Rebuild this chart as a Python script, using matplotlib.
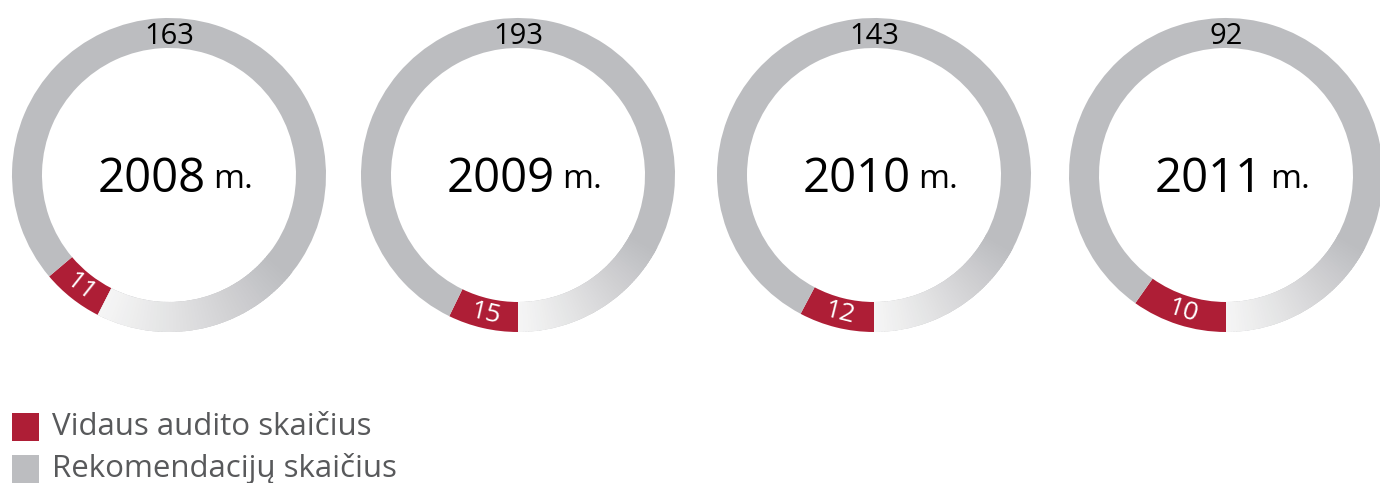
import numpy as np
import matplotlib.pyplot as plt
from matplotlib.patches import Wedge, Rectangle
from matplotlib.colors import to_rgb

years = ["2008", "2009", "2010", "2011"]
audits = [11, 15, 12, 10]
recommendations = [163, 193, 143, 92]
legend_labels = ["Vidaus audito skaičius", "Rekomendacijų skaičius"]

red = "#ae1e36"
grey = "#bcbdc0"
W, H = 1380, 483
centers_x = [169, 518, 874, 1226]
center_y = H - 175
r_out, ring_w = 157, 30
# where the red arc ends, degrees clockwise from 6 o'clock
red_end_off = [27, 0, 0, 0]

plt.rcParams["font.family"] = ["Open Sans", "DejaVu Sans"]
fig = plt.figure(figsize=(W / 100, H / 100), dpi=100)
ax = fig.add_axes([0, 0, 1, 1])

g0 = np.array(to_rgb(grey))
w0 = np.array([0.96, 0.96, 0.96])

for i, yr in enumerate(years):
    cx = centers_x[i]
    start = 270 - red_end_off[i]
    wedges, _ = ax.pie([audits[i], recommendations[i]], colors=[red, grey],
                       startangle=start, counterclock=False, radius=r_out,
                       center=(cx, center_y), frame=True,
                       wedgeprops=dict(width=ring_w, linewidth=0))
    # soft white fade on the grey ring next to the red segment
    n = 60
    span = 62 + red_end_off[i] * 0.6
    for k in range(n):
        t = k / (n - 1)
        c = w0 + (g0 - w0) * t ** 1.1
        a0 = start + span * k / n
        ax.add_patch(Wedge((cx, center_y), r_out, a0, a0 + span / n + 0.6,
                           width=ring_w, color=c, lw=0, zorder=2))
    # red value label along the arc
    th1, th2 = wedges[0].theta1, wedges[0].theta2
    mid = np.deg2rad((th1 + th2) / 2)
    rm = r_out - ring_w / 2
    ax.text(cx + rm * np.cos(mid), center_y + rm * np.sin(mid) - 1, str(audits[i]),
            color="white", fontsize=19, ha="center", va="center",
            rotation=np.rad2deg(mid) - 270, zorder=5)
    # grey value label on top
    ax.text(cx, center_y + rm - 3, str(recommendations[i]), color="black",
            fontsize=21, ha="center", va="center", zorder=5)
    # year in the middle
    ax.text(cx + 37, center_y - 4, yr, fontsize=34, ha="right", va="center", zorder=5)
    ax.text(cx + 44, center_y - 4, "m.", fontsize=24, ha="left", va="center", zorder=5)

ax.set_xlim(0, W)
ax.set_ylim(0, H)
ax.set_aspect("equal")
ax.axis("off")

# legend
for j, (lab, col) in enumerate(zip(legend_labels, [red, grey])):
    y = H - 427 - j * 42
    ax.add_patch(Rectangle((12, y - 14), 27, 28, color=col, lw=0))
    ax.text(52, y, lab, fontsize=22.5, color="#58595b", ha="left", va="center")

fig.savefig("out.png", dpi=100)
